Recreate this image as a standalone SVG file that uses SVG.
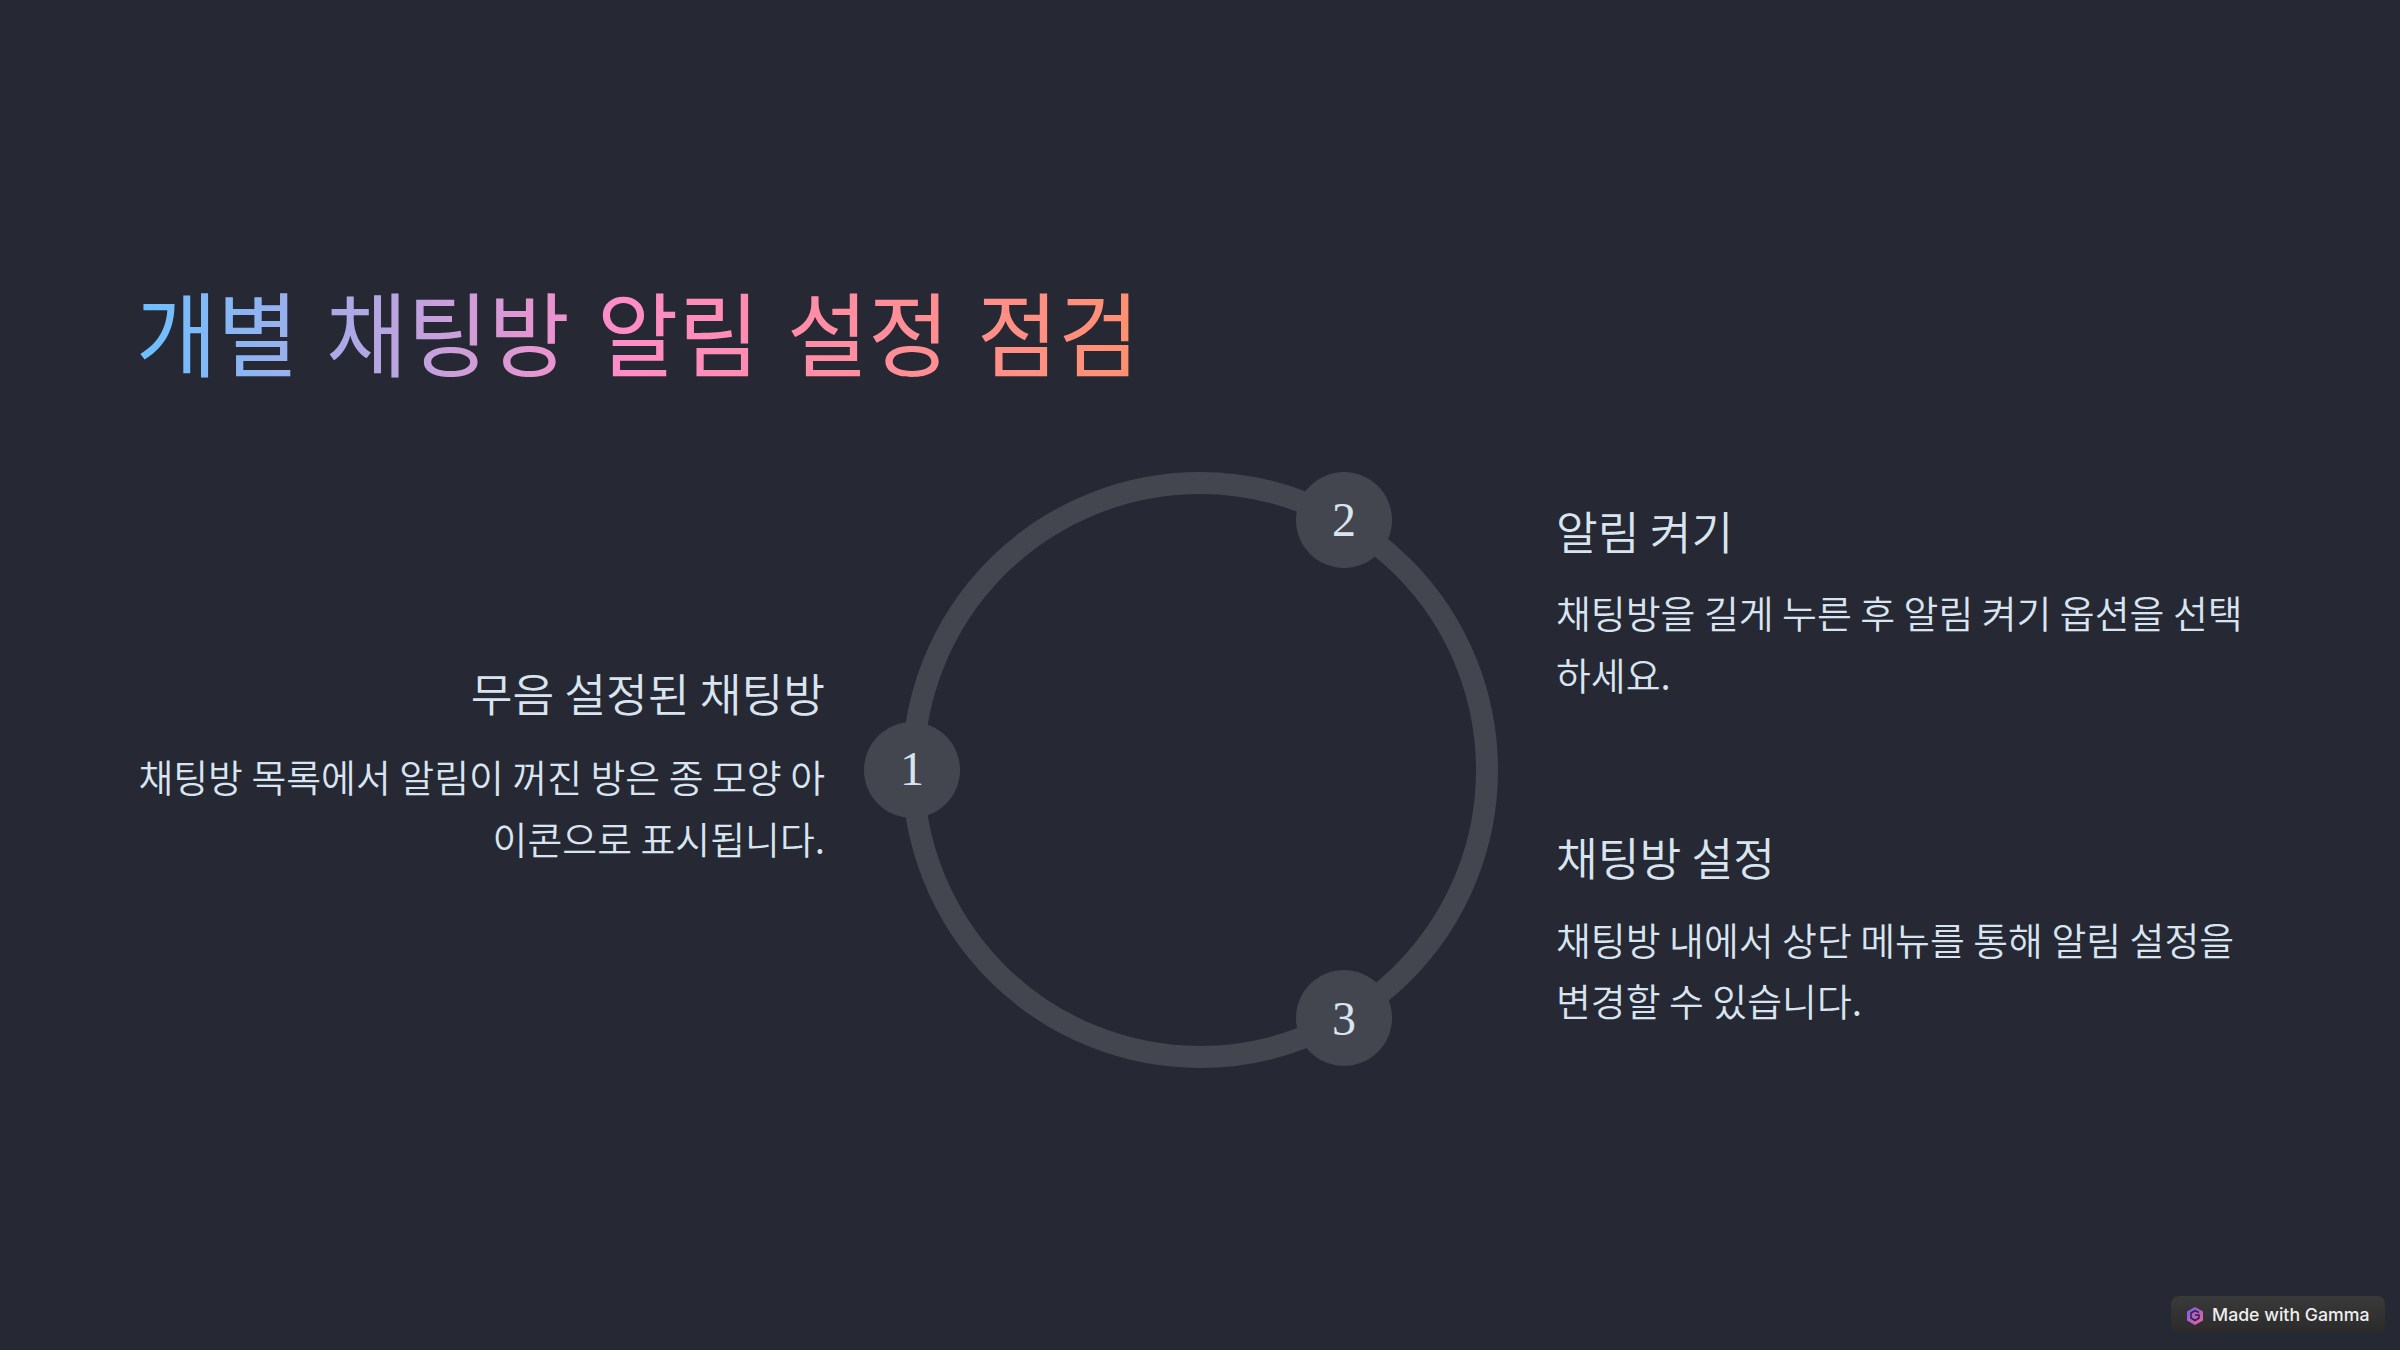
<svg xmlns="http://www.w3.org/2000/svg" width="2400" height="1350" viewBox="0 0 2400 1350">
<style>
.h{font-family:"Noto Sans CJK KR","Noto Sans",sans-serif;font-size:45.4px;font-weight:350;fill:#d8e5f0}
.b{font-family:"Noto Sans CJK KR","Noto Sans",sans-serif;font-size:37.9px;font-weight:350;fill:#d8e5f0}
.n{font-family:"Liberation Serif",serif;font-size:48px;fill:#d8e5f0;text-anchor:middle}
.r{text-anchor:end}
.c{fill:#44464f}
</style>
<defs>
<linearGradient id="g" gradientUnits="userSpaceOnUse" x1="0" y1="0" x2="1085" y2="0">
<stop offset="0" stop-color="#6cc0ff"/><stop offset="0.47" stop-color="#ff8cc6"/><stop offset="1" stop-color="#ff9069"/>
</linearGradient>
<linearGradient id="bd" x1="0" y1="0" x2="0" y2="1"><stop offset="0" stop-color="#3a3a3a"/><stop offset="1" stop-color="#2a2a2a"/></linearGradient>
<linearGradient id="lg" x1="0" y1="0" x2="1" y2="1"><stop offset="0" stop-color="#7b5cff"/><stop offset="1" stop-color="#f0609a"/></linearGradient>
</defs>
<rect width="2400" height="1350" fill="#262833"/>
<text id="title" transform="translate(136 370) scale(.96 1)" font-family="'Noto Sans CJK KR',sans-serif" font-size="92" word-spacing="8" fill="url(#g)">개별 채팅방 알림 설정 점검</text>
<g id="connectors"><circle cx="1200" cy="770" r="287" fill="none" stroke="#44464f" stroke-width="22"/></g>
<g id="node1"><circle class="c" cx="912" cy="770" r="48"/><text class="n" x="912" y="785">1</text>
<text class="h r" x="825" y="712">무음 설정된 채팅방</text>
<text class="b r" x="825" y="792">채팅방 목록에서 알림이 꺼진 방은 종 모양 아</text>
<text class="b r" x="825" y="854">이콘으로 표시됩니다.</text></g>
<g id="node2"><circle class="c" cx="1344" cy="520" r="48"/><text class="n" x="1344" y="536">2</text>
<text class="h" x="1556" y="550">알림 켜기</text>
<text class="b" x="1556" y="628">채팅방을 길게 누른 후 알림 켜기 옵션을 선택</text>
<text class="b" x="1556" y="690">하세요.</text></g>
<g id="node3"><circle class="c" cx="1344" cy="1018" r="48"/><text class="n" x="1344" y="1035">3</text>
<text class="h" x="1556" y="876">채팅방 설정</text>
<text class="b" x="1556" y="955">채팅방 내에서 상단 메뉴를 통해 알림 설정을</text>
<text class="b" x="1556" y="1016">변경할 수 있습니다.</text></g>
<g id="badge"><rect x="2171" y="1296" width="214" height="38" rx="8" fill="url(#bd)"/>
<path d="M2195 1307l8 4.500v9l-8 4.500-8-4.500v-9z" fill="url(#lg)"/>
<path d="M2199 1312.500l-4-2-4 2.500v5l4 2.500 4-2.500v-3h-4" fill="none" stroke="#2a2a2a" stroke-width="1.500"/>
<text x="2212" y="1321" font-family="Inter,sans-serif" font-size="17.7" font-weight="500" fill="#eeeeee">Made with Gamma</text></g>
</svg>
